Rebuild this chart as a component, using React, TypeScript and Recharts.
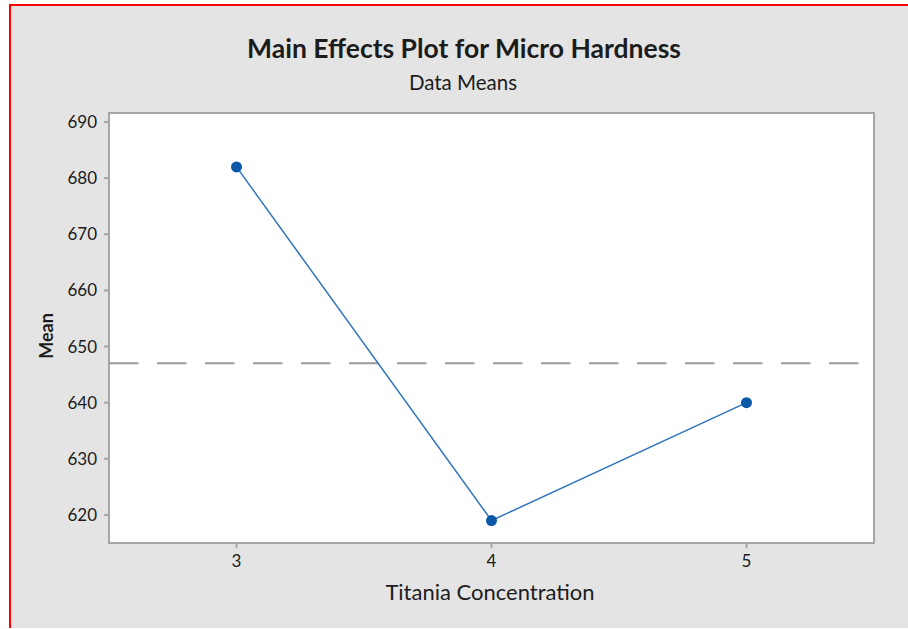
import { LineChart, Line, XAxis, YAxis, ReferenceLine, ReferenceArea } from 'recharts';

// factor levels and their data means
const levels = [3, 4, 5];
const means = [682, 619, 640];
const grandMean = 647;

const yTicks = [620, 630, 640, 650, 660, 670, 680, 690];
const xTicks = [3, 4, 5];

const data = levels.map((level, i) => ({ level, mean: means[i] }));

const FONT = 'Lato, "Open Sans", sans-serif';
const Y_DOMAIN: [number, number] = [615, 691.6];
const X_DOMAIN: [number, number] = [2.5, 5.5];

export default function App() {
  return (
    <div style={{ position: 'absolute', left: 0, top: 0, width: 908, height: 629, background: '#fff', overflow: 'hidden' }}>
      <div
        style={{
          position: 'absolute', left: 9, top: 4, width: 899, height: 624,
          background: '#e4e4e4', borderLeft: '2px solid #ff0000', borderTop: '2px solid #ff0000',
          boxSizing: 'border-box',
        }}
      />
      <div style={{ position: 'absolute', left: 0, top: 0 }}>
        <LineChart width={908} height={629} data={data} margin={{ top: 113, right: 34, bottom: 56, left: 0 }}>
          <XAxis
            dataKey="level"
            type="number"
            domain={X_DOMAIN}
            ticks={xTicks}
            allowDataOverflow
            height={30}
            axisLine={false}
            tickSize={5}
            tickMargin={7}
            tickLine={{ stroke: '#a6a6a6', strokeWidth: 2 }}
            tick={{ fontSize: 17, fill: '#1a1a1a', fontFamily: FONT }}
          />
          <YAxis
            type="number"
            domain={Y_DOMAIN}
            ticks={yTicks}
            allowDataOverflow
            width={109}
            axisLine={false}
            tickSize={5}
            tickMargin={7}
            tickLine={{ stroke: '#a6a6a6', strokeWidth: 2 }}
            tick={{ fontSize: 17, fill: '#1a1a1a', fontFamily: FONT }}
          />
          {/* white plotting region with grey frame */}
          <ReferenceArea
            x1={X_DOMAIN[0]}
            x2={X_DOMAIN[1]}
            y1={Y_DOMAIN[0]}
            y2={Y_DOMAIN[1]}
            fill="#ffffff"
            fillOpacity={1}
            stroke="#a6a6a6"
            strokeWidth={2}
          />
          {/* grand mean */}
          <ReferenceLine
            segment={[{ x: 2.5, y: grandMean }, { x: 5.44, y: grandMean }]}
            stroke="#9a9a9a"
            strokeWidth={2}
            strokeDasharray="29.5 18.5"
          />
          <Line
            type="linear"
            dataKey="mean"
            stroke="#2f74bd"
            strokeWidth={1.5}
            dot={{ r: 5.5, fill: '#0b58a8', stroke: 'none' }}
            activeDot={false}
            isAnimationActive={false}
          />
        </LineChart>
      </div>
      <svg width={908} height={629} style={{ position: 'absolute', left: 0, top: 0, pointerEvents: 'none' }}>
        <text x={464} y={58} textAnchor="middle" fontFamily={FONT} fontWeight={700} fontSize={26.5} fill="#1c1c1c">
          Main Effects Plot for Micro Hardness
        </text>
        <text x={463} y={90} textAnchor="middle" fontFamily={FONT} fontSize={20.5} fill="#1c1c1c">
          Data Means
        </text>
        <text x={490} y={600} textAnchor="middle" fontFamily={FONT} fontSize={22} fill="#1c1c1c">
          Titania Concentration
        </text>
        <text
          transform="translate(53 336) rotate(-90)"
          textAnchor="middle"
          fontFamily={FONT}
          fontWeight={700}
          fontSize={18}
          fill="#1c1c1c"
        >
          Mean
        </text>
      </svg>
    </div>
  );
}
